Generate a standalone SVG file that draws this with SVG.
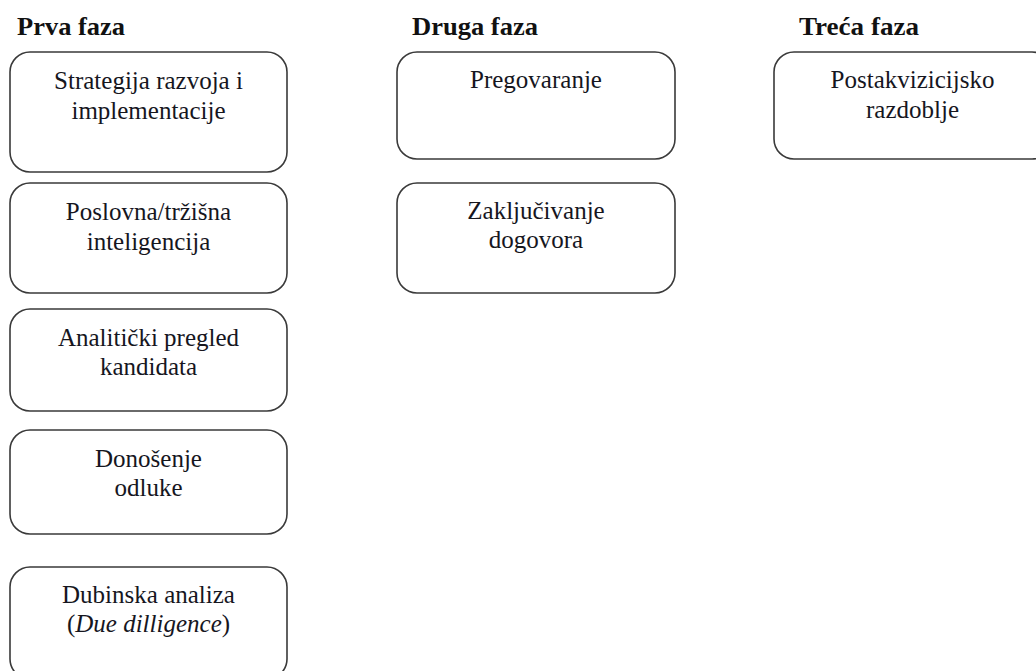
<svg xmlns="http://www.w3.org/2000/svg" width="1036" height="671" viewBox="0 0 1036 671">
<style>
.box{fill:#fff;stroke:#3a3a3a;stroke-width:1.6}
.t{font-family:"Liberation Serif","Times New Roman",serif;font-size:25px;fill:#16161e;text-anchor:middle}
.h{font-family:"Liberation Serif","Times New Roman",serif;font-size:25px;font-weight:bold;fill:#111}
</style>
<rect width="1036" height="671" fill="#fff"/>
<g id="titles">
<text class="h" x="17" y="35" textLength="108" lengthAdjust="spacingAndGlyphs">Prva faza</text>
<text class="h" x="412" y="35" textLength="126" lengthAdjust="spacingAndGlyphs">Druga faza</text>
<text class="h" x="799" y="35" textLength="120" lengthAdjust="spacingAndGlyphs">Treća faza</text>
</g>
<g id="connectors"></g>
<g id="n1">
<rect class="box" x="10" y="52" width="277" height="120" rx="20"/>
<text class="t" x="148.5" y="89">Strategija razvoja i</text>
<text class="t" x="148.5" y="119">implementacije</text>
</g>
<g id="n2">
<rect class="box" x="10" y="183" width="277" height="110" rx="20"/>
<text class="t" x="148.5" y="220">Poslovna/tržišna</text>
<text class="t" x="148.5" y="250">inteligencija</text>
</g>
<g id="n3">
<rect class="box" x="10" y="309" width="277" height="102" rx="20"/>
<text class="t" x="148.5" y="346">Analitički pregled</text>
<text class="t" x="148.5" y="375">kandidata</text>
</g>
<g id="n4">
<rect class="box" x="10" y="430" width="277" height="104" rx="20"/>
<text class="t" x="148.5" y="467">Donošenje</text>
<text class="t" x="148.5" y="496">odluke</text>
</g>
<g id="n5">
<rect class="box" x="10" y="567" width="277" height="112" rx="20"/>
<text class="t" x="148.5" y="603">Dubinska analiza</text>
<text class="t" x="148.5" y="632">(<tspan font-style="italic">Due dilligence</tspan>)</text>
</g>
<g id="n6">
<rect class="box" x="397" y="52" width="278" height="107" rx="20"/>
<text class="t" x="536" y="88">Pregovaranje</text>
</g>
<g id="n7">
<rect class="box" x="397" y="183" width="278" height="110" rx="20"/>
<text class="t" x="536" y="219">Zaključivanje</text>
<text class="t" x="536" y="248">dogovora</text>
</g>
<g id="n8">
<rect class="box" x="774" y="52" width="278" height="107" rx="20"/>
<text class="t" x="912.5" y="88">Postakvizicijsko</text>
<text class="t" x="912.5" y="118">razdoblje</text>
</g>
</svg>
